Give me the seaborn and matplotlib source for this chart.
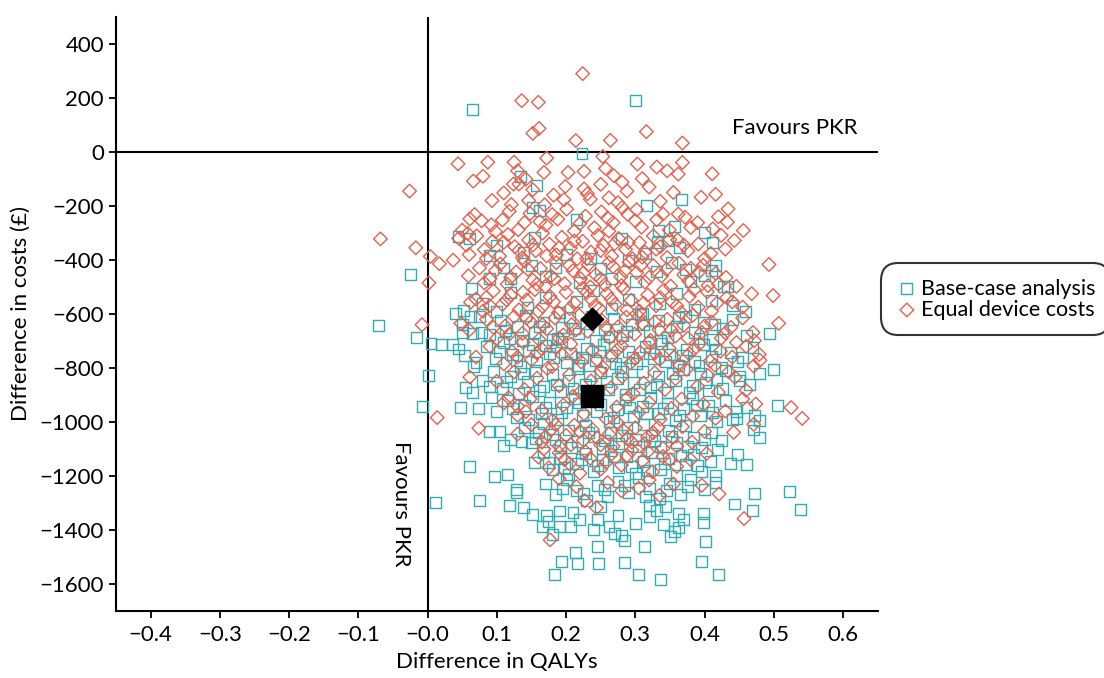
import seaborn as sns
import matplotlib.pyplot as plt
import pandas as pd
import numpy as np

# (difference in QALYs, difference in costs)
base_points = [
    # above -300
    (0.065, 157), (0.300, 189), (0.223, -5), (0.134, -90), (0.157, -126), (0.152, -206),
    (0.162, -216), (0.215, -250), (0.044, -312), (0.367, -177), (0.316, -199), (0.333, -290),
    (0.356, -275), (0.400, -300), (0.347, -330), (0.332, -336), (0.411, -336), (0.364, -353),
    # -300 to -500
    (-0.025, -454), (0.064, -506), (0.416, -420), (0.372, -435), (0.400, -457), (0.433, -499),
    (0.427, -499), (0.060, -322), (0.090, -382), (0.100, -346), (0.120, -470), (0.150, -420),
    (0.170, -462), (0.220, -482), (0.250, -432), (0.290, -402), (0.300, -480), (0.330, -442),
    (0.410, -440), (0.090, -470), (0.200, -380), (0.280, -322), (0.138, -372), (0.155, -318),
    (0.185, -430), (0.235, -395), (0.265, -470), (0.315, -375), (0.352, -410), (0.380, -480),
    (0.110, -430),
    # -500 to -600
    (0.041, -597), (0.052, -587), (0.062, -608), (0.459, -590), (0.080, -560), (0.100, -590),
    (0.120, -520), (0.145, -575), (0.170, -540), (0.190, -595), (0.215, -555), (0.240, -515),
    (0.265, -580), (0.290, -545), (0.310, -598), (0.335, -560), (0.360, -525), (0.385, -585),
    (0.410, -550), (0.440, -570),
    # -600 to -700
    (-0.071, -642), (-0.016, -686), (0.051, -669), (0.065, -673), (0.078, -668), (0.494, -671),
    (0.050, -640), (0.075, -610), (0.090, -675), (0.105, -625), (0.118, -690), (0.130, -648),
    (0.142, -605), (0.155, -668), (0.168, -630), (0.180, -695), (0.193, -652), (0.205, -612),
    (0.218, -672), (0.230, -635), (0.243, -698), (0.256, -658), (0.268, -618), (0.281, -680),
    (0.294, -640), (0.307, -603), (0.320, -665), (0.333, -625), (0.346, -688), (0.359, -648),
    (0.372, -608), (0.385, -670), (0.398, -632), (0.412, -695), (0.426, -655), (0.440, -620),
    (0.460, -680),
    (0.112, -660), (0.137, -700), (0.162, -645), (0.187, -690), (0.212, -655), (0.237, -610),
    (0.262, -685), (0.287, -665), (0.312, -640), (0.337, -700), (0.362, -615), (0.392, -690),
    (0.415, -640),
    # -700 to -800
    (0.005, -711), (0.020, -713), (0.036, -715), (0.053, -755), (0.067, -794), (0.448, -775),
    (0.045, -730), (0.070, -780), (0.085, -720), (0.098, -765), (0.110, -705), (0.122, -750),
    (0.134, -795), (0.146, -735), (0.158, -778), (0.170, -718), (0.182, -762), (0.194, -702),
    (0.206, -745), (0.218, -790), (0.230, -728), (0.242, -772), (0.254, -712), (0.266, -755),
    (0.278, -798), (0.290, -738), (0.302, -782), (0.314, -722), (0.326, -765), (0.338, -708),
    (0.350, -750), (0.362, -792), (0.374, -732), (0.386, -775), (0.398, -715), (0.410, -758),
    (0.424, -798), (0.438, -742), (0.470, -725),
    (0.104, -740), (0.128, -772), (0.152, -715), (0.176, -745), (0.200, -780), (0.224, -760),
    (0.248, -740), (0.272, -785), (0.296, -760), (0.320, -745), (0.344, -775), (0.368, -755),
    (0.392, -790), (0.416, -730), (0.455, -760),
    # -800 to -900
    (0.001, -828), (0.055, -872), (0.065, -891), (0.499, -805), (0.450, -846),
    (0.080, -845), (0.095, -815), (0.108, -878), (0.120, -832), (0.132, -895), (0.144, -852),
    (0.156, -808), (0.168, -868), (0.180, -825), (0.192, -888), (0.204, -845), (0.216, -802),
    (0.228, -862), (0.250, -818), (0.262, -880), (0.274, -838), (0.286, -898), (0.298, -855),
    (0.310, -812), (0.322, -872), (0.334, -830), (0.346, -892), (0.358, -848), (0.370, -805),
    (0.382, -866), (0.394, -822), (0.406, -885), (0.418, -842), (0.430, -810), (0.465, -860),
    (0.480, -820),
    (0.090, -870), (0.114, -850), (0.138, -820), (0.162, -885), (0.186, -860), (0.210, -875),
    (0.234, -830), (0.258, -850), (0.282, -815), (0.306, -880), (0.330, -860), (0.354, -820),
    (0.378, -890), (0.402, -855), (0.426, -875), (0.450, -830),
    # -900 to -1000
    (-0.007, -942), (0.047, -945), (0.074, -950), (0.093, -910), (0.505, -939), (0.472, -975),
    (0.479, -996), (0.446, -962), (0.446, -987),
    (0.100, -960), (0.115, -920), (0.128, -985), (0.140, -940), (0.152, -905), (0.164, -968),
    (0.176, -928), (0.188, -992), (0.200, -948), (0.212, -912), (0.224, -975), (0.250, -935),
    (0.262, -998), (0.274, -955), (0.286, -918), (0.298, -980), (0.310, -942), (0.322, -908),
    (0.334, -970), (0.346, -930), (0.358, -995), (0.370, -952), (0.382, -915), (0.394, -978),
    (0.406, -938), (0.418, -1000), (0.430, -922), (0.460, -945),
    (0.122, -950), (0.146, -990), (0.170, -945), (0.194, -965), (0.218, -930), (0.244, -960),
    (0.268, -985), (0.292, -948), (0.316, -968), (0.340, -950), (0.364, -975), (0.388, -940),
    (0.412, -965), (0.440, -990),
    # -1000 to -1100
    (0.471, -1030), (0.480, -1058), (0.089, -1034), (0.104, -1036), (0.120, -1065),
    (0.109, -1088), (0.136, -1073), (0.150, -1075),
    (0.140, -1020), (0.156, -1060), (0.168, -1005), (0.180, -1045), (0.192, -1088), (0.204, -1030),
    (0.216, -1072), (0.228, -1012), (0.240, -1055), (0.252, -1098), (0.264, -1038), (0.276, -1080),
    (0.288, -1022), (0.300, -1065), (0.312, -1008), (0.324, -1050), (0.336, -1092), (0.348, -1032),
    (0.360, -1075), (0.372, -1015), (0.384, -1058), (0.396, -1095), (0.410, -1040), (0.425, -1070),
    (0.160, -1040), (0.184, -1065), (0.208, -1095), (0.232, -1040), (0.256, -1070), (0.280, -1050),
    (0.304, -1090), (0.328, -1070), (0.352, -1055), (0.376, -1090), (0.400, -1065),
    # -1100 to -1300
    (0.060, -1165), (0.011, -1300), (0.075, -1290), (0.097, -1203), (0.115, -1196), (0.128, -1251),
    (0.128, -1262), (0.119, -1310), (0.139, -1317), (0.419, -1102), (0.438, -1154), (0.460, -1158),
    (0.448, -1121), (0.416, -1200), (0.416, -1223), (0.443, -1304), (0.472, -1265), (0.522, -1257),
    (0.155, -1150), (0.168, -1115), (0.180, -1178), (0.192, -1135), (0.204, -1195), (0.216, -1155),
    (0.228, -1118), (0.240, -1182), (0.252, -1140), (0.264, -1105), (0.276, -1168), (0.288, -1128),
    (0.300, -1190), (0.312, -1148), (0.324, -1112), (0.336, -1175), (0.348, -1135), (0.360, -1198),
    (0.372, -1158), (0.384, -1120), (0.396, -1185), (0.408, -1145),
    (0.175, -1150), (0.198, -1170), (0.222, -1140), (0.246, -1160), (0.270, -1130), (0.294, -1165),
    (0.318, -1180), (0.342, -1155), (0.366, -1125), (0.390, -1160),
    (0.170, -1230), (0.185, -1270), (0.200, -1215), (0.215, -1255), (0.230, -1290), (0.245, -1235),
    (0.260, -1275), (0.275, -1220), (0.290, -1262), (0.305, -1205), (0.320, -1248), (0.335, -1285),
    (0.350, -1228), (0.365, -1268), (0.380, -1212), (0.400, -1250),
    (0.195, -1245), (0.225, -1265), (0.255, -1250), (0.285, -1235), (0.315, -1275), (0.345, -1255),
    (0.375, -1240),
    # below -1300
    (0.152, -1343), (0.172, -1347), (0.174, -1368), (0.166, -1388), (0.191, -1386), (0.207, -1386),
    (0.180, -1417), (0.213, -1485), (0.193, -1517), (0.216, -1526), (0.183, -1564), (0.210, -1335),
    (0.539, -1323), (0.469, -1327), (0.402, -1443), (0.396, -1517), (0.420, -1564), (0.337, -1585),
    (0.304, -1566), (0.285, -1520), (0.247, -1525), (0.246, -1463), (0.313, -1463), (0.398, -1374),
    (0.398, -1338), (0.362, -1392), (0.357, -1407), (0.351, -1425), (0.341, -1381), (0.362, -1340),
    (0.321, -1349), (0.330, -1328), (0.344, -1315), (0.262, -1387), (0.270, -1415), (0.280, -1420),
    (0.285, -1440), (0.239, -1398), (0.245, -1360), (0.190, -1330), (0.220, -1360), (0.250, -1315),
    (0.275, -1345), (0.300, -1375), (0.320, -1310), (0.370, -1360),
]

equal_points = [
    # above zero
    (0.224, 290), (0.136, 190), (0.160, 184), (0.152, 69), (0.161, 87), (0.214, 42),
    (0.264, 43), (0.316, 75), (0.368, 33),
    # 0 to -100
    (0.044, -44), (0.087, -38), (0.125, -38), (0.172, -23), (0.066, -108), (0.080, -90),
    (0.130, -70), (0.168, -76), (0.203, -76), (0.226, -72), (0.253, -17), (0.303, -45),
    (0.331, -56), (0.346, -70), (0.362, -82), (0.368, -39), (0.411, -81), (0.257, -61),
    (0.269, -88), (0.310, -99), (0.124, -119), (0.132, -119), (0.142, -101),
    # -100 to -200
    (-0.026, -145), (0.199, -128), (0.226, -137), (0.093, -180), (0.121, -195), (0.146, -180),
    (0.169, -196), (0.197, -177), (0.231, -155), (0.235, -175), (0.288, -145), (0.395, -168),
    (0.416, -157), (0.336, -183), (0.262, -170), (0.275, -188), (0.250, -120), (0.281, -112),
    (0.110, -152), (0.152, -140), (0.182, -160), (0.320, -130), (0.355, -150),
    # -200 to -300
    (0.362, -230), (0.434, -211), (0.433, -260), (0.456, -291), (0.372, -242), (0.390, -262),
    (0.068, -232), (0.061, -248), (0.050, -290), (0.058, -302), (0.092, -270), (0.108, -252),
    (0.131, -288), (0.148, -228), (0.171, -271), (0.188, -249), (0.212, -293), (0.228, -238),
    (0.251, -222), (0.268, -262), (0.289, -231), (0.309, -279), (0.331, -251), (0.349, -289),
    (0.241, -281), (0.262, -293), (0.281, -206), (0.302, -214), (0.201, -212), (0.162, -258),
    (0.412, -285), (0.118, -220),
    (0.078, -255), (0.098, -295), (0.140, -262), (0.180, -232), (0.220, -265), (0.260, -245),
    (0.300, -255), (0.340, -230), (0.380, -280), (0.420, -240),
    # -300 to -400
    (-0.068, -322), (-0.017, -355), (0.004, -387), (0.017, -414), (0.037, -401),
    (0.045, -320), (0.056, -345), (0.071, -311), (0.082, -362), (0.094, -331), (0.104, -386),
    (0.116, -306), (0.126, -351), (0.137, -392), (0.146, -326), (0.156, -366), (0.166, -301),
    (0.176, -342), (0.186, -381), (0.194, -316), (0.206, -356), (0.216, -396), (0.224, -331),
    (0.236, -371), (0.246, -309), (0.254, -346), (0.266, -386), (0.276, -321), (0.286, -361),
    (0.296, -396), (0.306, -336), (0.314, -371), (0.326, -311), (0.336, -351), (0.346, -391),
    (0.361, -326), (0.376, -366), (0.391, -341), (0.409, -376), (0.443, -328), (0.424, -309),
    (0.060, -380), (0.085, -395), (0.110, -335), (0.132, -365), (0.152, -345), (0.172, -385),
    (0.190, -355), (0.212, -330), (0.230, -395), (0.250, -365), (0.270, -340), (0.290, -335),
    (0.310, -390), (0.330, -360), (0.350, -325), (0.370, -345), (0.400, -395), (0.430, -360),
    # -400 to -500
    (0.002, -485), (0.059, -459), (0.431, -465), (0.416, -450), (0.380, -431), (0.446, -498),
    (0.493, -417), (0.075, -430), (0.090, -470), (0.105, -415), (0.115, -490), (0.128, -445),
    (0.140, -405), (0.152, -475), (0.163, -432), (0.178, -460), (0.186, -410), (0.198, -488),
    (0.210, -440), (0.221, -470), (0.232, -418), (0.243, -455), (0.256, -492), (0.268, -425),
    (0.279, -463), (0.291, -408), (0.302, -447), (0.314, -482), (0.326, -421), (0.338, -459),
    (0.351, -497), (0.363, -412), (0.377, -478), (0.392, -445), (0.405, -495), (0.170, -498),
    (0.235, -500), (0.280, -495),
    (0.082, -485), (0.098, -440), (0.120, -465), (0.145, -435), (0.158, -490), (0.183, -470),
    (0.205, -420), (0.225, -448), (0.250, -470), (0.262, -410), (0.285, -440), (0.308, -420),
    (0.320, -465), (0.345, -435), (0.370, -455), (0.398, -420), (0.420, -490),
    # -500 to -600
    (0.499, -532), (0.070, -545), (0.085, -539), (0.062, -557), (0.080, -590), (0.095, -515),
    (0.108, -565), (0.120, -530), (0.132, -585), (0.143, -548), (0.155, -510), (0.166, -572),
    (0.177, -536), (0.189, -595), (0.200, -520), (0.212, -560), (0.224, -505), (0.236, -545),
    (0.248, -580), (0.259, -525), (0.271, -565), (0.283, -507), (0.294, -550), (0.306, -590),
    (0.318, -530), (0.330, -570), (0.341, -512), (0.353, -555), (0.366, -595), (0.378, -535),
    (0.391, -575), (0.404, -518), (0.418, -560), (0.432, -540), (0.455, -575), (0.468, -525),
    (0.090, -570), (0.114, -548), (0.138, -520), (0.160, -590), (0.182, -555), (0.205, -580),
    (0.230, -520), (0.242, -570), (0.265, -545), (0.288, -585), (0.312, -560), (0.336, -540),
    (0.360, -570), (0.385, -510), (0.410, -590), (0.440, -555),
    # -600 to -700
    (-0.008, -640), (0.048, -635), (0.507, -635), (0.470, -669), (0.472, -699), (0.446, -706),
    (0.060, -660), (0.085, -620), (0.100, -690), (0.112, -645), (0.125, -610), (0.137, -672),
    (0.149, -630), (0.161, -695), (0.172, -655), (0.184, -615), (0.196, -678), (0.208, -640),
    (0.219, -605), (0.231, -665), (0.252, -625), (0.263, -688), (0.275, -648), (0.287, -612),
    (0.299, -675), (0.310, -635), (0.322, -698), (0.334, -658), (0.346, -620), (0.358, -682),
    (0.370, -642), (0.383, -605), (0.396, -668), (0.410, -630), (0.424, -690), (0.438, -650),
    (0.455, -615),
    (0.095, -650), (0.118, -675), (0.143, -615), (0.166, -640), (0.190, -690), (0.214, -660),
    (0.258, -650), (0.280, -690), (0.305, -610), (0.328, -630), (0.352, -660), (0.376, -690),
    (0.400, -645), (0.430, -670),
    # -700 to -800
    (0.479, -750), (0.471, -793), (0.480, -772), (0.070, -760), (0.090, -720), (0.110, -785),
    (0.122, -740), (0.138, -705), (0.150, -770), (0.165, -730), (0.180, -795), (0.194, -750),
    (0.207, -712), (0.222, -778), (0.238, -735), (0.253, -798), (0.266, -755), (0.280, -718),
    (0.293, -782), (0.307, -742), (0.320, -705), (0.335, -768), (0.349, -728), (0.364, -790),
    (0.378, -748), (0.393, -710), (0.408, -775), (0.423, -738), (0.440, -760), (0.460, -720),
    (0.130, -760), (0.158, -745), (0.186, -725), (0.214, -760), (0.245, -770), (0.273, -735),
    (0.300, -765), (0.328, -745), (0.356, -760), (0.385, -730), (0.415, -790),
    # -800 to -900
    (0.061, -834), (0.444, -835), (0.460, -883), (0.100, -850), (0.125, -815), (0.140, -880),
    (0.158, -838), (0.173, -802), (0.190, -866), (0.205, -825), (0.220, -890), (0.236, -848),
    (0.250, -812), (0.265, -873), (0.281, -832), (0.297, -895), (0.312, -856), (0.328, -818),
    (0.343, -880), (0.358, -840), (0.374, -805), (0.390, -868), (0.405, -828), (0.420, -890),
    (0.435, -815),
    # -900 to -1000
    (0.014, -984), (0.474, -934), (0.525, -947), (0.541, -987), (0.416, -987), (0.117, -910),
    (0.130, -942), (0.142, -962), (0.110, -930), (0.130, -975), (0.148, -915), (0.165, -958),
    (0.180, -995), (0.196, -938), (0.210, -905), (0.226, -970), (0.242, -925), (0.258, -988),
    (0.273, -945), (0.289, -910), (0.305, -965), (0.320, -928), (0.336, -990), (0.352, -950),
    (0.367, -915), (0.383, -978), (0.398, -935), (0.430, -960), (0.455, -915),
    # -1000 to -1200
    (0.074, -1023), (0.471, -1009), (0.442, -1039), (0.403, -1117), (0.130, -1045), (0.150, -1010),
    (0.165, -1075), (0.178, -1030), (0.190, -1090), (0.200, -1050), (0.212, -1012), (0.225, -1068),
    (0.238, -1028), (0.250, -1085), (0.262, -1045), (0.275, -1005), (0.288, -1062), (0.300, -1022),
    (0.313, -1080), (0.326, -1040), (0.340, -1098), (0.354, -1058), (0.368, -1018), (0.382, -1075),
    (0.400, -1035), (0.160, -1130), (0.175, -1170), (0.190, -1115), (0.205, -1155), (0.220, -1190),
    (0.235, -1135), (0.250, -1175), (0.265, -1120), (0.280, -1160), (0.295, -1105), (0.310, -1145),
    (0.325, -1185), (0.340, -1128), (0.360, -1165), (0.380, -1140),
    (0.170, -1055), (0.185, -1010), (0.207, -1085), (0.220, -1035), (0.245, -1060), (0.268, -1090),
    (0.282, -1030), (0.295, -1075), (0.318, -1055), (0.333, -1020), (0.360, -1090),
    (0.168, -1100), (0.198, -1140), (0.228, -1110), (0.258, -1150), (0.288, -1125), (0.318, -1110),
    (0.350, -1140),
    # below -1200
    (0.190, -1210), (0.215, -1240), (0.260, -1225), (0.280, -1255), (0.320, -1215), (0.355, -1230),
    (0.227, -1292), (0.305, -1245), (0.335, -1272), (0.396, -1235), (0.421, -1267), (0.244, -1318),
    (0.457, -1358), (0.177, -1437),
]

mean_base = (0.237, -905)
mean_equal = (0.237, -620)

series_names = ['Base-case analysis', 'Equal device costs']
colors = ['#2eadb5', '#e8604c']

base_df = pd.DataFrame(base_points, columns=['qaly', 'cost'])
equal_df = pd.DataFrame(equal_points, columns=['qaly', 'cost'])

sns.set_style('ticks')
plt.rcParams['font.family'] = ['Lato', 'DejaVu Sans']
fs = 16
plt.rcParams['font.size'] = fs
for key in ['text.color', 'axes.labelcolor', 'xtick.color', 'ytick.color', 'axes.edgecolor']:
    plt.rcParams[key] = 'black'

fig = plt.figure(figsize=(11.04, 6.78), dpi=100)
ax = fig.add_axes([0.105, 0.099, 0.69, 0.876])

sns.scatterplot(data=base_df, x='qaly', y='cost', ax=ax, marker='s', s=62,
                color=colors[0], facecolor='none', edgecolor=colors[0], linewidth=1.0,
                label=series_names[0], zorder=3)
sns.scatterplot(data=equal_df, x='qaly', y='cost', ax=ax, marker='D', s=48,
                color=colors[1], facecolor='none', edgecolor=colors[1], linewidth=1.0,
                label=series_names[1], zorder=3)

# mean points
ax.scatter([mean_equal[0]], [mean_equal[1]], marker='D', s=130, color='black', zorder=5)
ax.scatter([mean_base[0]], [mean_base[1]], marker='s', s=260, color='black', zorder=5)

ax.axhline(0, color='black', lw=1.5, zorder=2)
ax.axvline(0, color='black', lw=1.5, zorder=2)

ax.text(0.44, 88, 'Favours PKR', fontsize=fs, ha='left', va='center')
ax.text(-0.039, -1304, 'Favours PKR', fontsize=fs, rotation=-90, ha='center', va='center')

ax.set_xlim(-0.45, 0.65)
ax.set_ylim(-1700, 500)
ax.set_xticks(np.arange(-0.4, 0.61, 0.1))
ax.set_xticklabels([f'{v:.1f}'.replace('-', '\u2212') for v in np.arange(-0.4, 0.61, 0.1)])
ax.set_yticks(np.arange(-1600, 401, 200))
ax.set_xlabel('Difference in QALYs', fontsize=fs, labelpad=5)
ax.set_ylabel('Difference in costs (£)', fontsize=fs, labelpad=6)
ax.tick_params(labelsize=fs, length=5, width=1.3, color='black')
ax.tick_params(axis='x', pad=5)
sns.despine(ax=ax)
for side in ['left', 'bottom']:
    ax.spines[side].set_linewidth(1.5)
    ax.spines[side].set_color('black')

leg = ax.legend(loc='center left', bbox_to_anchor=(1.003, 0.525), fontsize=15.5,
                frameon=True, fancybox=True, handletextpad=0.15, borderpad=0.45,
                handlelength=1.0, labelspacing=0.05, markerscale=1.0, borderaxespad=0.3)
leg.get_frame().set_edgecolor('black')
leg.get_frame().set_linewidth(1.5)
leg.get_frame().set_boxstyle('round', pad=0.25, rounding_size=0.8)

plt.savefig('out.png', dpi=100)
